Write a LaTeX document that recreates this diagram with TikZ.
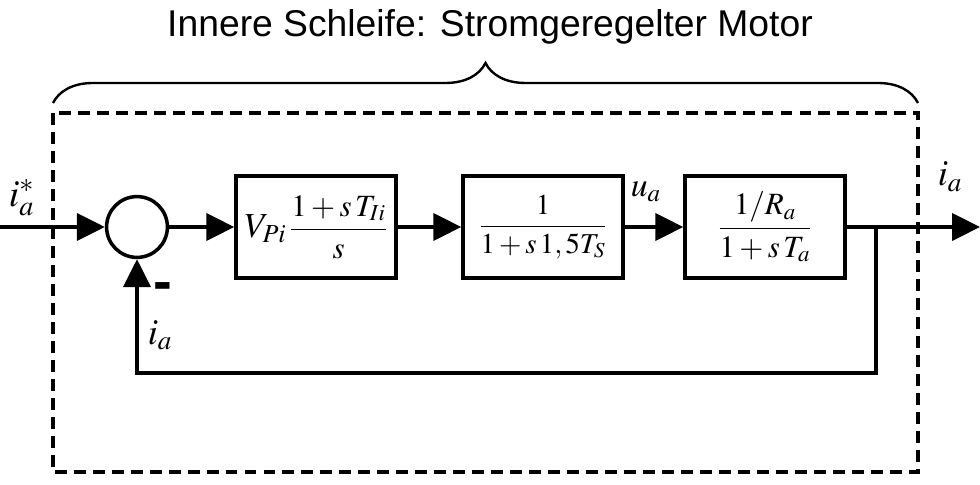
\documentclass[tikz,border=0pt]{standalone}
\usepackage{mathptmx}
\usepackage[no-math]{fontspec}
\newfontfamily\titlefont{Liberation Sans}
\usepackage{tikz}
\usetikzlibrary{
  arrows.meta,
  decorations.pathreplacing
}

\begin{document}
\begin{tikzpicture}[
  x=0.025cm, y=-0.025cm,
  line width=2.5pt,
  sig/.style={-{Triangle[length=0.7cm,width=0.68cm]}},
  block/.style={draw, line width=3pt, minimum width=3.98cm, minimum height=2.55cm,
    inner sep=0pt, font=\fontsize{22}{26}\selectfont},
  sum/.style={draw, circle, minimum size=1.52cm, inner sep=0pt},
  lbl/.style={anchor=base west, inner sep=0pt, font=\fontsize{26}{30}\selectfont},
  ]
  \useasboundingbox (0,0) rectangle (980,485);
  \node[anchor=base, inner sep=0pt, font=\titlefont\fontsize{26.5}{30}\selectfont] (title) at (490,37)
    {Innere Schleife: Stromgeregelter Motor};
  \draw[line width=1.7pt, decorate, decoration={brace, amplitude=1cm}] (53,103) -- (918,103);
  \draw[dash pattern=on 8.5pt off 5pt, line width=2.6pt] (53,113) rectangle (918,472);
  \node[sum] (sum) at (137,227) {};
  \node[block] (pi) at (316,227) {$\mbox{\fontsize{25}{28}\selectfont$V_{Pi}$}\,\displaystyle\frac{1+s\,T_{Ii}}{s}$};
  \node[block, font=\fontsize{20.5}{24}\selectfont] (pt1) at (543,227) {$\displaystyle\frac{1}{1+s\,1,5T_S}$};
  \node[block] (mot) at (765,227) {$\displaystyle\frac{1/R_a}{1+s\,T_a}$};
  \coordinate (in) at (0,227);
  \coordinate (out) at (980,227);
  \coordinate (br) at (876,227);
  \coordinate (fb) at (876,373);
  \draw[sig] (in) -- (sum);
  \draw[sig] (sum) -- (pi);
  \draw[sig] (pi) -- (pt1);
  \draw[sig] (pt1) -- (mot);
  \draw[sig] (mot) -- (out);
  \draw[sig] (br) -- (fb) -| (sum.south);
  \node[lbl, font=\fontsize{27}{30}\selectfont] (iref) at (7,206) {$i_a^*$};
  \node[lbl] (ifb) at (146,344) {$i_a$};
  \node[lbl, font=\fontsize{24}{28}\selectfont] (ua) at (629,196) {$u_a$};
  \node[lbl] (iout) at (936,186) {$i_a$};
  \node[inner sep=0pt, font=\titlefont\bfseries\fontsize{40}{40}\selectfont] (minus) at (163,292) {-};
\end{tikzpicture}
\end{document}
